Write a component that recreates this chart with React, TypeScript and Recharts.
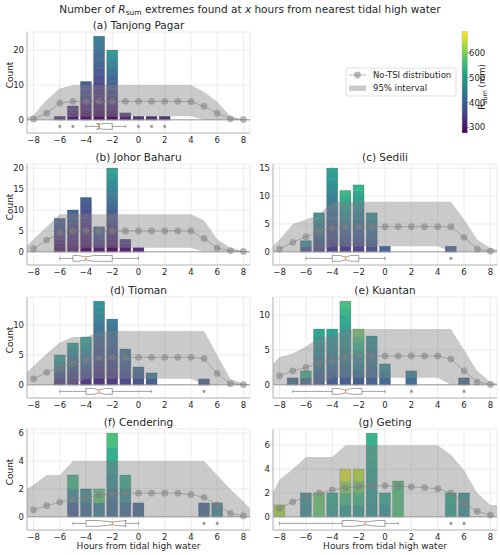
import React from "react";
import {
  ComposedChart,
  Bar,
  Area,
  Line,
  XAxis,
  YAxis,
  CartesianGrid,
  ReferenceLine,
  ReferenceArea,
  ReferenceDot,
} from "recharts";

const FONT = "'DejaVu Sans', Verdana, sans-serif";

// hours used for the band (edges beyond the visible -8.5..8.5 are clipped)
const HOURS = [-9, -8, -7, -6, -5, -4, -3, -2, -1, 0, 1, 2, 3, 4, 5, 6, 7, 8, 9];
const MEAN_HOURS = [-8, -7, -6, -5, -4, -3, -2, -1, 0, 1, 2, 3, 4, 5, 6, 7, 8];
const X_TICKS = [-8, -6, -4, -2, 0, 2, 4, 6, 8];

// (a) Tanjong Pagar
const A_BAR_HOURS = [-6, -5, -4, -3, -2, -1, 0, 1, 2];
const A_COUNTS = [1, 4, 11, 24, 20, 2, 1, 1, 1];
const A_RSUM_LOW = [320, 295, 285, 280, 280, 300, 315, 315, 315];
const A_RSUM_HIGH = [320, 340, 385, 440, 480, 325, 315, 315, 315];
const A_NOTSI = [0.2, 1.9, 4.8, 5.3, 5.3, 5.3, 5.3, 5.3, 5.3, 5.3, 5.3, 5.3, 5.2, 3.9, 1.9, 0.3, 0.1];
const A_UPPER = [0, 1.4, 5.7, 9, 10, 10, 10, 10, 10, 10, 10, 10, 10, 10, 8, 5.2, 1, 0, 0];
const A_LOWER = [0, 0, 0, 0, 1, 1, 1, 1, 1, 1, 1, 1, 1, 1, 0, 0, 0, 0, 0];
const A_BOX = [-4, -3, -3, -2, -1];
const A_NOTCH = [-3.2, -2.8];
const A_FLIERS = [-6, -5, 0, 1, 2];
const A_YTICKS = [0, 10, 20];

// (b) Johor Baharu
const B_BAR_HOURS = [-6, -5, -4, -3, -2, -1, 0];
const B_COUNTS = [8, 10, 13, 6, 20, 3, 1];
const B_RSUM_LOW = [290, 290, 290, 300, 285, 300, 310];
const B_RSUM_HIGH = [390, 395, 385, 410, 495, 330, 310];
const B_NOTSI = [0.7, 2.8, 4.5, 5, 5, 5, 5, 5, 5, 5, 5, 5, 5, 3.2, 0.9, 0.3, 0.1];
const B_UPPER = [0, 3, 6, 9, 9, 9, 9, 9, 9, 9, 9, 9, 9, 9, 7.5, 3, 1, 0.2, 0];
const B_LOWER = [0, 0, 0, 0, 0, 1, 1, 1, 1, 1, 1, 1, 1, 1, 0, 0, 0, 0, 0];
const B_BOX = [-6, -5, -4, -2, 0];
const B_NOTCH = [-4.6, -3.4];
const B_FLIERS: number[] = [];
const B_YTICKS = [0, 5, 10, 15, 20];

// (c) Sedili
const C_BAR_HOURS = [-6, -5, -4, -3, -2, -1, 0, 5];
const C_COUNTS = [2, 7, 15, 11, 12, 7, 1, 1];
const C_RSUM_LOW = [370, 350, 340, 340, 340, 360, 390, 390];
const C_RSUM_HIGH = [470, 480, 495, 540, 530, 470, 390, 390];
const C_NOTSI = [0.5, 1.7, 2.7, 3.6, 4.3, 4.5, 4.5, 4.5, 4.5, 4.5, 4.5, 4.5, 4.5, 4.5, 2.6, 0.5, 0.1];
const C_UPPER = [0, 2.2, 5, 5.8, 6.7, 9, 9, 9, 9, 9, 9, 9, 9, 9, 9, 5.8, 2.2, 0.7, 0.1];
const C_LOWER = [0, 0, 0, 0, 0, 1, 1, 1, 1, 1, 1, 1, 1, 1, 0, 0, 0, 0, 0];
const C_BOX = [-6, -4, -3, -2, 0];
const C_NOTCH = [-3.42, -2.58];
const C_FLIERS = [5];
const C_YTICKS = [0, 5, 10, 15];

// (d) Tioman
const D_BAR_HOURS = [-6, -5, -4, -3, -2, -1, 0, 1, 5];
const D_COUNTS = [5, 7, 8, 14, 11, 6, 3, 2, 1];
const D_RSUM_LOW = [330, 330, 330, 320, 330, 350, 370, 380, 380];
const D_RSUM_HIGH = [505, 490, 505, 470, 435, 420, 410, 420, 380];
const D_NOTSI = [1.0, 2.1, 2.9, 3.6, 4.2, 4.5, 4.6, 4.6, 4.6, 4.6, 4.6, 4.6, 4.6, 4.4, 1.9, 0.2, 0.05];
const D_UPPER = [1, 3.2, 5.2, 7.1, 8, 8, 8.9, 9, 9, 9, 9, 9, 9, 9, 9, 5, 1, 0.2, 0];
const D_LOWER = [0, 0, 0, 0, 0, 1, 1, 1, 1, 1, 1, 1, 1, 1, 0, 0, 0, 0, 0];
const D_BOX = [-6, -4, -3, -2, 1];
const D_NOTCH = [-3.42, -2.58];
const D_FLIERS = [5];
const D_YTICKS = [0, 5, 10];

// (e) Kuantan
const E_BAR_HOURS = [-7, -6, -5, -4, -3, -2, -1, 0, 2, 6];
const E_COUNTS = [1, 2, 8, 8, 12, 8, 7, 3, 2, 1];
const E_RSUM_LOW = [395, 400, 380, 380, 380, 380, 390, 400, 410, 400];
const E_RSUM_HIGH = [395, 530, 505, 495, 550, 590, 470, 460, 440, 400];
const E_NOTSI = [1.3, 2.0, 2.5, 3.1, 3.5, 3.9, 4.1, 4.15, 4.15, 4.15, 4.15, 4.15, 4.15, 3.7, 2.0, 0.4, 0.05];
const E_UPPER = [2, 4, 4.5, 5.5, 6.8, 7, 7.9, 8, 8, 8, 8, 8, 8, 8, 8, 5, 2, 0.4, 0];
const E_LOWER = [0, 0, 0, 0, 0, 1, 1, 1, 1, 1, 1, 1, 1, 1, 0, 0, 0, 0, 0];
const E_BOX = [-7, -4, -3, -1.75, 0];
const E_NOTCH = [-3.49, -2.51];
const E_FLIERS = [2, 6];
const E_YTICKS = [0, 5, 10];

// (f) Cendering
const F_BAR_HOURS = [-5, -4, -3, -2, -1, 0, 5, 6];
const F_COUNTS = [3, 2, 2, 6, 3, 1, 1, 1];
const F_RSUM_LOW = [390, 410, 440, 400, 410, 400, 395, 450];
const F_RSUM_HIGH = [540, 460, 570, 555, 520, 400, 395, 450];
const F_NOTSI = [0.5, 0.8, 1.05, 1.25, 1.4, 1.55, 1.65, 1.7, 1.7, 1.7, 1.7, 1.7, 1.6, 1.4, 0.85, 0.25, 0.07];
const F_UPPER = [1.7, 2.3, 3, 3, 4, 4, 4, 4, 4, 4, 4, 4, 4, 4, 4, 3, 2, 1.1, 0.1];
const F_LOWER = [0, 0, 0, 0, 0, 0, 0, 0, 0, 0, 0, 0, 0, 0, 0, 0, 0, 0, 0];
const F_BOX = [-5, -4, -2, -1, 0];
const F_NOTCH = [-3.08, -0.92];
const F_FLIERS = [5, 6];
const F_YTICKS = [0, 2, 4, 6];

// (g) Geting
const G_BAR_HOURS = [-8, -6, -5, -4, -3, -2, -1, 0, 1, 5, 6];
const G_COUNTS = [1, 2, 2, 2, 4, 4, 7, 2, 3, 2, 2];
const G_RSUM_LOW = [630, 460, 580, 500, 490, 490, 470, 470, 560, 500, 460];
const G_RSUM_HIGH = [630, 470, 580, 515, 665, 640, 530, 510, 560, 515, 470];
const G_NOTSI = [0.7, 1.25, 1.7, 2.0, 2.25, 2.4, 2.5, 2.6, 2.6, 2.55, 2.5, 2.45, 2.35, 2.0, 1.2, 0.45, 0.15];
const G_UPPER = [1.1, 3.1, 4, 5, 5, 5, 6, 6, 6, 6, 6, 6, 6, 6, 5.2, 3.9, 2, 1, 1];
const G_LOWER = [0, 0, 0, 0, 0, 0, 0, 0, 0, 0, 0, 0, 0, 0, 0, 0, 0, 0, 0];
const G_BOX = [-8, -3.25, -1.5, 0, 1];
const G_NOTCH = [-2.42, -0.58];
const G_FLIERS = [5, 6];
const G_YTICKS = [0, 2, 4, 6];

// colour bar
const R_MIN = 277;
const R_MAX = 687;
const CBAR_TICKS = [300, 400, 500, 600];
const VIRIDIS = [
  "#440154", "#482475", "#414487", "#355f8d", "#2a788e", "#21918c",
  "#22a884", "#44bf70", "#7ad151", "#bddf26", "#fde725",
];

function hexToRgb(h: string) {
  return [parseInt(h.slice(1, 3), 16), parseInt(h.slice(3, 5), 16), parseInt(h.slice(5, 7), 16)];
}
function viridis(r: number) {
  let t = (r - R_MIN) / (R_MAX - R_MIN);
  t = Math.max(0, Math.min(1, t));
  const p = t * (VIRIDIS.length - 1);
  const i = Math.min(Math.floor(p), VIRIDIS.length - 2);
  const f = p - i;
  const a = hexToRgb(VIRIDIS[i]);
  const b = hexToRgb(VIRIDIS[i + 1]);
  const c = a.map((v, k) => Math.round(v + (b[k] - v) * f));
  return `rgb(${c[0]},${c[1]},${c[2]})`;
}

function buildRows(
  barHours: number[], counts: number[], rLow: number[], rHigh: number[],
  noTsi: number[], upper: number[], lower: number[]
) {
  return HOURS.map((h, i) => {
    const bi = barHours.indexOf(h);
    const mi = MEAN_HOURS.indexOf(h);
    return {
      h,
      band: [lower[i], upper[i]],
      mean: mi >= 0 ? noTsi[mi] : null,
      count: bi >= 0 ? counts[bi] : null,
      rLow: bi >= 0 ? rLow[bi] : null,
      rHigh: bi >= 0 ? rHigh[bi] : null,
    };
  });
}

const PANELS = [
  { title: "(a) Tanjong Pagar", col: 0, row: 0, rows: buildRows(A_BAR_HOURS, A_COUNTS, A_RSUM_LOW, A_RSUM_HIGH, A_NOTSI, A_UPPER, A_LOWER), counts: A_COUNTS, yTicks: A_YTICKS, box: A_BOX, notch: A_NOTCH, fliers: A_FLIERS },
  { title: "(b) Johor Baharu", col: 0, row: 1, rows: buildRows(B_BAR_HOURS, B_COUNTS, B_RSUM_LOW, B_RSUM_HIGH, B_NOTSI, B_UPPER, B_LOWER), counts: B_COUNTS, yTicks: B_YTICKS, box: B_BOX, notch: B_NOTCH, fliers: B_FLIERS },
  { title: "(c) Sedili", col: 1, row: 1, rows: buildRows(C_BAR_HOURS, C_COUNTS, C_RSUM_LOW, C_RSUM_HIGH, C_NOTSI, C_UPPER, C_LOWER), counts: C_COUNTS, yTicks: C_YTICKS, box: C_BOX, notch: C_NOTCH, fliers: C_FLIERS },
  { title: "(d) Tioman", col: 0, row: 2, rows: buildRows(D_BAR_HOURS, D_COUNTS, D_RSUM_LOW, D_RSUM_HIGH, D_NOTSI, D_UPPER, D_LOWER), counts: D_COUNTS, yTicks: D_YTICKS, box: D_BOX, notch: D_NOTCH, fliers: D_FLIERS },
  { title: "(e) Kuantan", col: 1, row: 2, rows: buildRows(E_BAR_HOURS, E_COUNTS, E_RSUM_LOW, E_RSUM_HIGH, E_NOTSI, E_UPPER, E_LOWER), counts: E_COUNTS, yTicks: E_YTICKS, box: E_BOX, notch: E_NOTCH, fliers: E_FLIERS },
  { title: "(f) Cendering", col: 0, row: 3, rows: buildRows(F_BAR_HOURS, F_COUNTS, F_RSUM_LOW, F_RSUM_HIGH, F_NOTSI, F_UPPER, F_LOWER), counts: F_COUNTS, yTicks: F_YTICKS, box: F_BOX, notch: F_NOTCH, fliers: F_FLIERS },
  { title: "(g) Geting", col: 1, row: 3, rows: buildRows(G_BAR_HOURS, G_COUNTS, G_RSUM_LOW, G_RSUM_HIGH, G_NOTSI, G_UPPER, G_LOWER), counts: G_COUNTS, yTicks: G_YTICKS, box: G_BOX, notch: G_NOTCH, fliers: G_FLIERS },
];

// layout
const ROW_TOPS = [32, 164, 297, 429];
const PLOT_H = 101;
const COLS = [
  { left: 0, width: 251, yw: 27, mr: 1, cx: 138.5 },
  { left: 250, width: 250, yw: 23, mr: 3, cx: 385 },
];

const fmt = (v: number) => (v < 0 ? "\u2212" + Math.abs(v) : String(v));
const TICK_STYLE = { fontSize: 8.5, fill: "#262626", fontFamily: FONT };
const FRAME = "#b8b8b8";
const BOX_STROKE = "#8a8a8a";

const SegBar = (props: any) => {
  const { x, y, width, height, payload } = props;
  if (!payload || !payload.count || !(height > 0)) return null;
  const n = payload.count;
  const h = height / n;
  const segs = [];
  for (let i = 0; i < n; i++) {
    const r = n === 1 ? payload.rLow : payload.rLow + ((payload.rHigh - payload.rLow) * i) / (n - 1);
    const c = viridis(r);
    segs.push(
      <rect key={i} x={x} y={y + height - (i + 1) * h} width={width} height={h + 0.3}
        fill={c} fillOpacity={0.92} stroke="none" />
    );
  }
  return (
    <g>
      {segs}
      <rect x={x} y={y} width={width} height={height} fill="none" stroke="#000" strokeOpacity={0.22} strokeWidth={0.7} />
    </g>
  );
};

function NotchBox(props: any, box: number[], notch: number[]) {
  const { x, y, width, height } = props;
  if (x == null || y == null) return null;
  const q1 = box[1], med = box[2], q3 = box[3];
  const px = (v: number) => x + ((v - q1) / (q3 - q1)) * width;
  const top = y, bot = y + height, qh = height / 4;
  const pts = [
    [px(q1), top], [px(notch[0]), top], [px(med), top + qh], [px(notch[1]), top], [px(q3), top],
    [px(q3), bot], [px(notch[1]), bot], [px(med), bot - qh], [px(notch[0]), bot], [px(q1), bot],
  ];
  return (
    <g>
      <polygon points={pts.map((p) => p.join(",")).join(" ")} fill="#fff" stroke={BOX_STROKE} strokeWidth={0.8} />
      <line x1={px(med)} x2={px(med)} y1={top + qh} y2={bot - qh} stroke="#ff7f0e" strokeWidth={1} />
    </g>
  );
}

function Panel({ p }: { p: (typeof PANELS)[number] }) {
  const col = COLS[p.col];
  const top = ROW_TOPS[p.row];
  const ymax = Math.max(...p.counts) * 1.05;
  const ymin = -0.15 * ymax;
  const by = ymin / 2;
  const bh = 0.22 * -ymin;
  const ch = bh * 0.5;
  const [wlo, q1, , q3, whi] = p.box;
  const W = col.width;
  const H = PLOT_H + 1 + 16;
  const margin = { top: 1, right: col.mr, bottom: 0, left: 0 };
  const pos: React.CSSProperties = { position: "absolute", left: col.left, top: top - 1 };
  return (
    <>
      {/* bottom layer: grid, axes, frame, bars */}
      <div style={pos}>
        <ComposedChart width={W} height={H} data={p.rows} margin={margin}>
          <CartesianGrid stroke="#e6e6e6" strokeWidth={0.8} />
          <XAxis type="number" dataKey="h" domain={[-8.5, 8.5]} ticks={X_TICKS} interval={0}
            allowDataOverflow tickFormatter={fmt} tick={TICK_STYLE} tickLine={false} tickSize={0}
            tickMargin={4} axisLine={{ stroke: FRAME }} height={16} />
          <XAxis xAxisId="top" orientation="top" type="number" domain={[-8.5, 8.5]} allowDataOverflow
            height={0} tick={false} tickLine={false} axisLine={{ stroke: FRAME }} />
          <YAxis type="number" domain={[ymin, ymax]} ticks={p.yTicks} interval={0} allowDataOverflow
            width={col.yw} tick={TICK_STYLE} tickLine={false} tickSize={0} tickMargin={3}
            axisLine={{ stroke: FRAME }} />
          <YAxis yAxisId="right" orientation="right" type="number" domain={[0, 1]} width={0}
            tick={false} tickLine={false} axisLine={{ stroke: FRAME }} />
          <Bar dataKey="count" barSize={11} shape={SegBar} isAnimationActive={false} />
        </ComposedChart>
      </div>
      {/* top layer: 95% band, zero line, No-TSI line, box plot */}
      <div style={{ ...pos, pointerEvents: "none" }}>
        <ComposedChart width={W} height={H} data={p.rows} margin={margin}>
          <XAxis type="number" dataKey="h" domain={[-8.5, 8.5]} ticks={X_TICKS} interval={0}
            allowDataOverflow tick={false} tickLine={false} axisLine={false} height={16} />
          <YAxis type="number" domain={[ymin, ymax]} ticks={p.yTicks} interval={0} allowDataOverflow
            width={col.yw} tick={false} tickLine={false} axisLine={false} />
          <Area dataKey="band" type="linear" fill="#808080" fillOpacity={0.42} stroke="none"
            isAnimationActive={false} dot={false} activeDot={false} />
          <ReferenceLine y={0} stroke="#9a9a9a" strokeWidth={1} />
          <Line dataKey="mean" type="linear" stroke="#808080" strokeOpacity={0.55} strokeWidth={1}
            dot={{ r: 3.4, fill: "#808080", fillOpacity: 0.55, stroke: "none" }} activeDot={false}
            isAnimationActive={false} />
          <ReferenceLine segment={[{ x: wlo, y: by }, { x: q1, y: by }]} stroke={BOX_STROKE} strokeWidth={0.8} />
          <ReferenceLine segment={[{ x: q3, y: by }, { x: whi, y: by }]} stroke={BOX_STROKE} strokeWidth={0.8} />
          <ReferenceLine segment={[{ x: wlo, y: by - ch }, { x: wlo, y: by + ch }]} stroke={BOX_STROKE} strokeWidth={0.8} />
          <ReferenceLine segment={[{ x: whi, y: by - ch }, { x: whi, y: by + ch }]} stroke={BOX_STROKE} strokeWidth={0.8} />
          <ReferenceArea x1={q1} x2={q3} y1={by - bh} y2={by + bh}
            shape={(props: any) => NotchBox(props, p.box, p.notch)} />
          {p.fliers.map((f) => (
            <ReferenceDot key={f} x={f} y={by} r={1.3} fill="#9a9a9a" stroke="#8a8a8a" strokeWidth={0.4} />
          ))}
        </ComposedChart>
      </div>
    </>
  );
}

function Overlay() {
  const cbTop = 31.5, cbBot = 133, cbX = 462, cbW = 5.5;
  const cy = (r: number) => cbBot - ((r - R_MIN) / (R_MAX - R_MIN)) * (cbBot - cbTop);
  return (
    <svg width={500} height={555} style={{ position: "absolute", left: 0, top: 0, pointerEvents: "none" }}
      fontFamily={FONT}>
      <defs>
        <linearGradient id="vir" x1="0" y1="1" x2="0" y2="0">
          {VIRIDIS.map((c, i) => (
            <stop key={i} offset={i / (VIRIDIS.length - 1)} stopColor={c} />
          ))}
        </linearGradient>
      </defs>
      <text x={250} y={13} textAnchor="middle" fontSize={10.5} fill="#262626">
        Number of <tspan fontStyle="italic">R</tspan>
        <tspan fontSize={7.5} dy={2}>sum</tspan>
        <tspan dy={-2}> extremes found at </tspan>
        <tspan fontStyle="italic">x</tspan> hours from nearest tidal high water
      </text>
      {PANELS.map((p) => (
        <text key={p.title} x={COLS[p.col].cx} y={ROW_TOPS[p.row] - 3} textAnchor="middle"
          fontSize={10.5} fill="#262626">
          {p.title}
        </text>
      ))}
      {ROW_TOPS.map((t) => (
        <text key={t} x={13} y={t + 43} textAnchor="middle" fontSize={9} fill="#262626"
          transform={`rotate(-90 13 ${t + 43})`}>
          Count
        </text>
      ))}
      {COLS.map((c) => (
        <text key={c.cx} x={c.cx} y={549} textAnchor="middle" fontSize={9} fill="#262626">
          Hours from tidal high water
        </text>
      ))}
      {/* legend */}
      <rect x={346} y={68} width={110} height={28} rx={2} fill="#fff" fillOpacity={0.8} stroke="#d6d6d6" strokeWidth={0.8} />
      <line x1={349} x2={366} y1={75} y2={75} stroke="#808080" strokeOpacity={0.55} strokeWidth={1} />
      <circle cx={357.5} cy={75} r={3.4} fill="#808080" fillOpacity={0.55} />
      <text x={373} y={78} fontSize={8.5} fill="#262626">No-TSI distribution</text>
      <rect x={349} y={85.5} width={17} height={5.5} fill="#808080" fillOpacity={0.42} />
      <text x={373} y={91} fontSize={8.5} fill="#262626">95% interval</text>
      {/* colour bar */}
      <rect x={cbX} y={cbTop} width={cbW} height={cbBot - cbTop} fill="url(#vir)" stroke="#bbb" strokeWidth={0.5} />
      {CBAR_TICKS.map((t) => (
        <g key={t}>
          <line x1={cbX + cbW} x2={cbX + cbW + 2} y1={cy(t)} y2={cy(t)} stroke="#444" strokeWidth={0.6} />
          <text x={cbX + cbW + 1.5} y={cy(t) + 3} fontSize={8.5} fill="#262626">{t}</text>
        </g>
      ))}
      <text x={485} y={87} textAnchor="middle" fontSize={8.5} fill="#262626" transform="rotate(-90 485 87)">
        R<tspan fontSize={6.5} dy={2}>sum</tspan>
        <tspan dy={-2}> (mm)</tspan>
      </text>
    </svg>
  );
}

export default function App() {
  return (
    <div style={{ position: "absolute", left: 0, top: 0, width: 500, height: 555, background: "#fff", fontFamily: FONT }}>
      {PANELS.map((p) => (
        <Panel key={p.title} p={p} />
      ))}
      <Overlay />
    </div>
  );
}
